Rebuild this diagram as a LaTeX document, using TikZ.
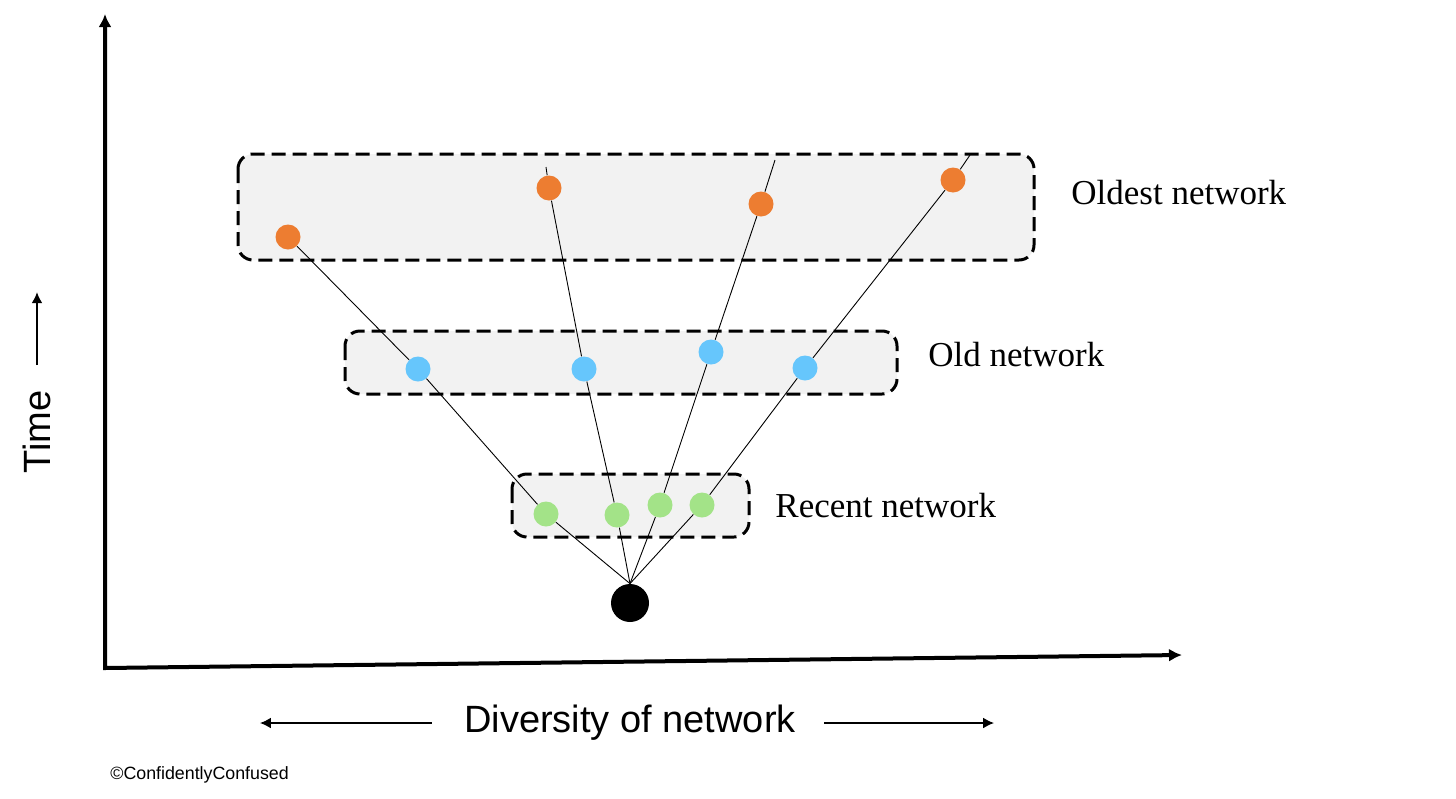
\documentclass[tikz,border=0pt]{standalone}
\usepackage{fontspec}
\setmainfont{Liberation Serif}
\newfontfamily\axisfont{Liberation Sans}
\usetikzlibrary{arrows.meta}

\definecolor{oldestdot}{HTML}{ED7D31}
\definecolor{olddot}{HTML}{66C6FC}
\definecolor{recentdot}{HTML}{A3E388}
\definecolor{boxfill}{HTML}{F2F2F2}

\tikzset{
  netbox/.style={draw,line width=1.5pt,dash pattern=on 7pt off 3.5pt,
    rounded corners=7.5pt,fill=boxfill},
  dot/.style={circle,inner sep=0pt,minimum size=12.5pt},
  link/.style={line width=0.45pt},
  axis/.style={line width=2pt},
  netlabel/.style={anchor=west,inner sep=0pt,font=\fontsize{17.5}{20}\selectfont},
  axislabel/.style={inner sep=0pt,font=\axisfont\fontsize{19}{22}\selectfont},
  hint/.style={line width=1.4pt,-{Latex[length=5.5pt,width=5.5pt]}}
}

\begin{document}
\begin{tikzpicture}[x=0.5pt,y=-0.5pt,>=Latex]
  \useasboundingbox (0,0) rectangle (1456,798);

  % axes
  \coordinate (ytop) at (105,14);
  \coordinate (origin) at (105,668);
  \coordinate (xend) at (1182,655);
  \draw[axis,{Latex[length=6.5pt,width=6.5pt]}-{Latex[length=6.5pt,width=6.5pt]}]
    (ytop) -- (origin) -- (xend);

  % network boxes
  \draw[netbox] (238,154) rectangle (1034,260);
  \draw[netbox] (345,331) rectangle (897,394);
  \draw[netbox] (512,474) rectangle (749,537);
  \node[netlabel] (oldestlab) at (1071,193) {Oldest network};
  \node[netlabel] (oldlab) at (928,355) {Old network};
  \node[netlabel] (recentlab) at (775,506) {Recent network};

  % dots
  \node[dot,fill=black,minimum size=19pt] (root) at (630,603) {};
  \coordinate (hub) at (root.north);
  \foreach \n/\x/\y in {o1/288/237,o2/549/188,o3/761/204,o4/953/180}
    \node[dot,fill=oldestdot] (\n) at (\x,\y) {};
  \foreach \n/\x/\y in {b1/418/369,b2/584/369,b3/711/352,b4/805/368}
    \node[dot,fill=olddot] (\n) at (\x,\y) {};
  \foreach \n/\x/\y in {g1/546/514,g2/617/515,g3/660/505,g4/702/505}
    \node[dot,fill=recentdot] (\n) at (\x,\y) {};

  % lineages
  \foreach \g/\b/\o in {g1/b1/o1,g2/b2/o2,g3/b3/o3,g4/b4/o4}
    \draw[link] (hub) -- (\g) -- (\b) -- (\o);
  \foreach \o/\x/\y in {o2/546/167,o3/775/160,o4/970/155}{
    \coordinate (tip\o) at (\x,\y);
    \draw[link] (\o) -- (tip\o);
  }

  % axis labels
  \node[axislabel,rotate=90] (timelab) at (37,432) {Time};
  \draw[hint] ([yshift=12.5pt]timelab.east) -- ++(0,-73);
  \node[axislabel] (divlab) at (630,723) {Diversity of network};
  \draw[hint] ([xshift=-16pt]divlab.west) -- ++(-172,0);
  \draw[hint] ([xshift=14pt]divlab.east) -- ++(170,0);

  \node[anchor=west,inner sep=0pt,font=\axisfont\fontsize{8.9}{10}\selectfont]
    (credit) at (110,775) {©ConfidentlyConfused};
\end{tikzpicture}
\end{document}
